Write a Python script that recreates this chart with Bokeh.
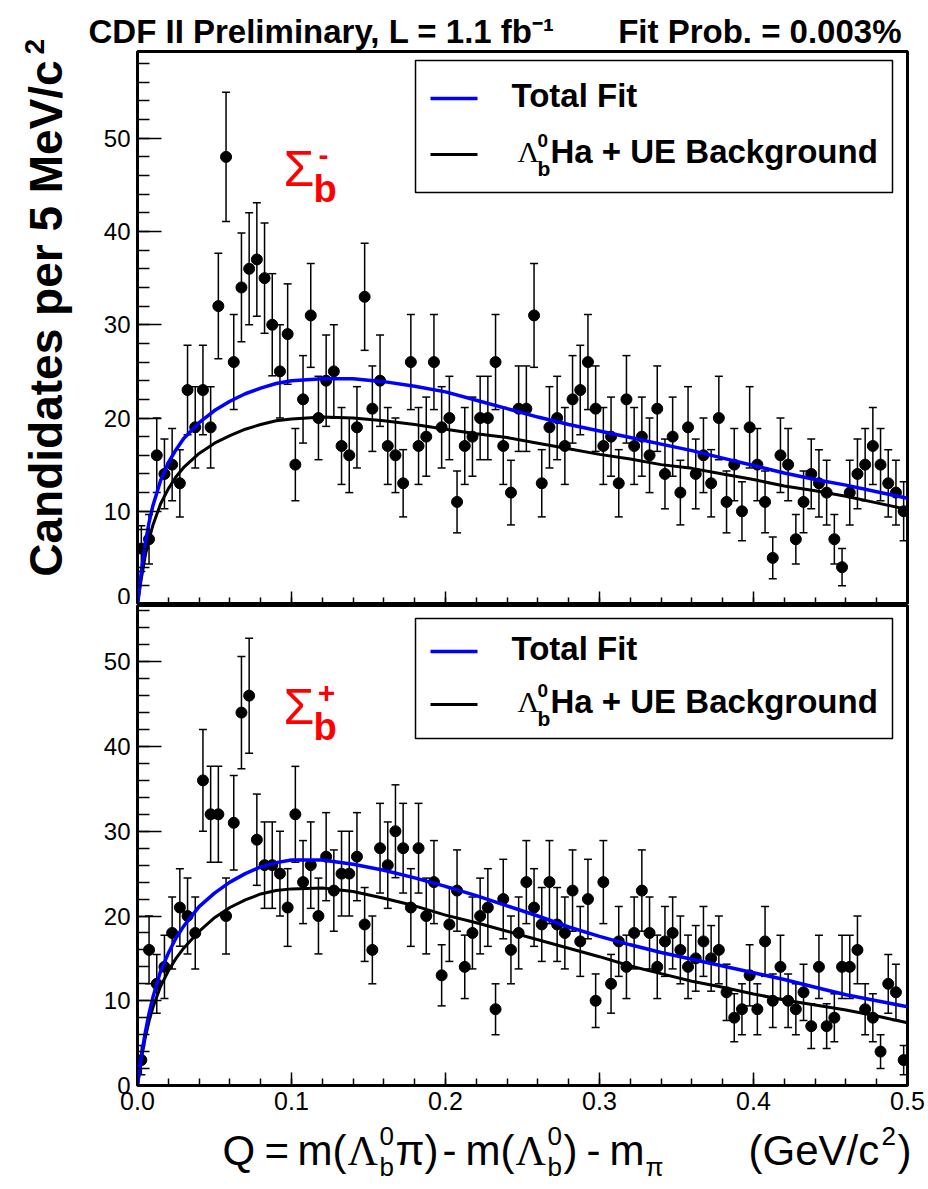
import math
import numpy as np
from bokeh.plotting import figure
from bokeh.layouts import column
from bokeh.models import (ColumnDataSource, Whisker, TeeHead, FixedTicker,
                          PrintfTickFormatter, Label, BoxAnnotation, Range1d)
from bokeh.embed import file_html
from bokeh.resources import INLINE

# ---------------- data ----------------
BIN_WIDTH = 0.005
N_BINS = 100
q_centers = (np.arange(N_BINS) + 0.5) * BIN_WIDTH

sigma_minus_counts = [
    6, 7, 16, 14, 15, 13, 23, 19, 23, 19,
    32, 48, 26, 34, 36, 37, 35, 30, 25, 29,
    15, 22, 31, 20, 24, 25, 17, 16, 19, 33,
    21, 24, 17, 16, 13, 26, 17, 18, 26, 19,
    20, 11, 17, 18, 20, 20, 26, 17, 12, 21,
    21, 31, 13, 19, 20, 17, 22, 23, 26, 21,
    17, 18, 13, 22, 17, 18, 16, 21, 14, 18,
    12, 19, 14, 16, 13, 20, 11, 15, 10, 19,
    15, 11, 5, 16, 15, 7, 11, 14, 13, 12,
    7, 4, 12, 14, 15, 17, 15, 13, 12, 10,
]
sigma_plus_counts = [
    3, 16, 12, 14, 18, 21, 20, 18, 36, 32,
    32, 20, 31, 44, 46, 29, 26, 26, 25, 21,
    32, 24, 26, 20, 27, 23, 25, 25, 27, 19,
    16, 28, 26, 30, 28, 21, 28, 20, 24, 13,
    19, 23, 14, 18, 20, 21, 9, 22, 16, 18,
    24, 21, 19, 24, 19, 18, 23, 17, 22, 10,
    24, 12, 17, 14, 18, 23, 18, 14, 17, 18,
    16, 14, 15, 17, 15, 16, 11, 8, 9, 13,
    9, 17, 10, 14, 10, 9, 11, 7, 14, 7,
    8, 14, 14, 16, 9, 8, 4, 12, 11, 3,
]

curve_q = [0.0, 0.0025, 0.005, 0.0075, 0.01, 0.015, 0.02, 0.025, 0.03, 0.04,
           0.05, 0.06, 0.07, 0.08, 0.09, 0.10, 0.12, 0.14, 0.16, 0.18,
           0.20, 0.22, 0.24, 0.26, 0.28, 0.30, 0.32, 0.34, 0.36, 0.38,
           0.40, 0.42, 0.44, 0.46, 0.48, 0.50]
minus_total_fit = [0.0, 3.5, 6.5, 8.8, 10.6, 13.3, 15.2, 16.6, 17.8, 19.5,
                   20.8, 21.8, 22.6, 23.2, 23.7, 24.0, 24.2, 24.2, 23.9, 23.4,
                   22.8, 21.9, 21.0, 20.1, 19.3, 18.6, 17.9, 17.2, 16.5, 15.7,
                   14.9, 14.1, 13.4, 12.8, 12.1, 11.4]
minus_background = [0.0, 2.8, 5.2, 7.0, 8.5, 10.8, 12.4, 13.7, 14.7, 16.2,
                    17.3, 18.1, 18.8, 19.3, 19.7, 19.9, 20.1, 20.0, 19.7, 19.3,
                    18.8, 18.3, 17.9, 17.3, 16.7, 16.1, 15.6, 15.0, 14.6, 14.0,
                    13.4, 12.7, 12.2, 11.6, 10.9, 10.2]
plus_total_fit = [0.0, 3.5, 6.2, 8.5, 10.4, 13.5, 15.6, 17.4, 18.8, 21.1,
                  22.7, 24.0, 25.0, 25.8, 26.3, 26.6, 26.6, 26.1, 25.4, 24.5,
                  23.5, 22.4, 21.2, 20.0, 18.7, 17.6, 16.6, 15.7, 14.9, 14.1,
                  13.3, 12.5, 11.6, 10.7, 10.0, 9.3]
plus_background = [0.0, 3.2, 5.6, 7.6, 9.2, 11.7, 13.5, 15.0, 16.2, 18.2,
                   19.8, 21.0, 21.9, 22.6, 23.0, 23.2, 23.3, 22.9, 22.1, 21.2,
                   20.1, 19.2, 18.2, 17.2, 16.2, 15.2, 14.1, 13.2, 12.3, 11.6,
                   10.8, 10.1, 9.5, 8.9, 8.2, 7.4]

x_major_ticks = [0.0, 0.1, 0.2, 0.3, 0.4, 0.5]
x_minor_ticks = [0.02 * i for i in range(26)]
y_major_ticks = [0, 10, 20, 30, 40, 50]
y_minor_ticks = list(range(0, 60, 2))

# ---------------- layout (page pixels) ----------------
PAGE_W = 928
PAGE_H = 1189
FRAME_L = 137
FRAME_W = 770
RIGHT_B = PAGE_W - FRAME_L - FRAME_W
X_MAX = 0.5
TOP_T = 51
TOP_H = 553
TOP_PXU = 9.325
BOT_T = 605
BOT_H = 480
BOT_PXU = 8.475
BOT_B = 35
FOOT_T = BOT_T + BOT_H + BOT_B
FOOT_H = PAGE_H - FOOT_T
TOP_YMAX = TOP_H / TOP_PXU
BOT_YMAX = BOT_H / BOT_PXU


def xm(px):
    return (px - FRAME_L) / FRAME_W * X_MAX


def ym_top(py):
    return (TOP_T + TOP_H - py) / TOP_PXU


def ym_bot(py):
    return (BOT_T + BOT_H - py) / BOT_PXU


SANS = "Liberation Sans"
SERIF = "Liberation Serif"
NB = "\u00a0"


def text(p, x, y, s, size, bold=False, color="black", font=SANS,
         align="left", baseline="middle", angle=0.0, place="center"):
    lab = Label(x=x, y=y, text=s, text_font=font,
                text_font_size=f"{size}px",
                text_font_style="bold" if bold else "normal",
                text_color=color, text_align=align,
                text_baseline=baseline, angle=angle)
    if place == "center":
        p.add_layout(lab)
    else:
        p.add_layout(lab, place)


def make_panel(counts, total, bkg, ymax, frame_h, top_border, bottom_border,
               show_x_labels):
    p = figure(frame_width=FRAME_W, frame_height=frame_h,
               min_border_left=FRAME_L, min_border_right=RIGHT_B,
               min_border_top=top_border, min_border_bottom=bottom_border,
               x_range=(0, X_MAX), y_range=(0, ymax),
               output_backend="svg", toolbar_location=None, title=None)
    p.background_fill_color = "white"
    p.border_fill_color = "white"
    p.outline_line_color = "black"
    p.outline_line_width = 3
    p.xgrid.visible = False
    p.ygrid.visible = False

    xa = p.xaxis[0]
    xa.ticker = FixedTicker(ticks=x_major_ticks, minor_ticks=x_minor_ticks)
    xa.axis_line_color = None
    xa.major_tick_in = 13
    xa.major_tick_out = 0
    xa.minor_tick_in = 7
    xa.minor_tick_out = 0
    xa.major_tick_line_width = 1.5
    xa.minor_tick_line_width = 1.5
    xa.major_tick_line_color = "black"
    xa.minor_tick_line_color = "black"
    xa.major_label_text_font = SANS
    xa.major_label_text_font_size = "25px"
    xa.major_label_text_color = "black"
    if show_x_labels:
        xa.formatter = PrintfTickFormatter(format="%.1f")
        xa.major_label_standoff = 6
    else:
        xa.major_label_overrides = {t: "" for t in x_major_ticks}
        xa.major_label_standoff = 0

    ya = p.yaxis[0]
    ya.ticker = FixedTicker(ticks=y_major_ticks, minor_ticks=y_minor_ticks)
    ya.axis_line_color = None
    ya.major_tick_in = 24
    ya.major_tick_out = 0
    ya.minor_tick_in = 12
    ya.minor_tick_out = 0
    ya.major_tick_line_width = 1.5
    ya.minor_tick_line_width = 1.5
    ya.major_tick_line_color = "black"
    ya.minor_tick_line_color = "black"
    ya.major_label_text_font = SANS
    ya.major_label_text_font_size = "24px"
    ya.major_label_text_color = "black"
    ya.major_label_standoff = 7

    err = np.sqrt(np.array(counts, dtype=float))
    src = ColumnDataSource(dict(q=q_centers, n=counts,
                                lo=np.array(counts) - err,
                                hi=np.array(counts) + err))
    p.add_layout(Whisker(source=src, base="q", lower="lo", upper="hi",
                         line_color="black", line_width=1.5,
                         upper_head=TeeHead(size=8, line_width=1.5, line_color="black"),
                         lower_head=TeeHead(size=8, line_width=1.5, line_color="black")))
    p.scatter("q", "n", source=src, marker="circle", size=11,
              fill_color="black", line_color="black")
    p.line(curve_q, bkg, line_color="black", line_width=3)
    p.line(curve_q, total, line_color="#0000ff", line_width=3.5)
    return p


top = make_panel(sigma_minus_counts, minus_total_fit, minus_background,
                 TOP_YMAX, TOP_H, TOP_T, 0, False)
bot = make_panel(sigma_plus_counts, plus_total_fit, plus_background,
                 BOT_YMAX, BOT_H, 1, BOT_B, True)


def legend(p, ym, box_t, box_b, line1_y, line2_y, mid1, mid2):
    p.add_layout(BoxAnnotation(left=xm(415), right=xm(892), top=ym(box_t),
                               bottom=ym(box_b), fill_color="white",
                               fill_alpha=1.0, line_color="black",
                               line_width=1.5, line_alpha=1.0))
    p.segment(x0=[xm(430)], y0=[ym(line1_y)], x1=[xm(477)], y1=[ym(line1_y)],
              line_color="#0000ff", line_width=3.5, level="overlay")
    p.segment(x0=[xm(430)], y0=[ym(line2_y)], x1=[xm(477)], y1=[ym(line2_y)],
              line_color="black", line_width=3, level="overlay")
    text(p, xm(511), ym(mid1), "Total Fit", 33, bold=True)
    text(p, xm(517), ym(mid2), "\u039b", 30, font=SERIF)
    text(p, xm(537), ym(mid2 - 11), "0", 19, bold=True)
    text(p, xm(537), ym(mid2 + 17), "b", 21, bold=True)
    text(p, xm(550), ym(mid2), "Ha + UE Background", 33, bold=True)


legend(top, ym_top, 60, 192, 98, 154, 95, 151)
legend(bot, ym_bot, 618, 738, 651, 704, 648, 701)

# Sigma labels
text(top, xm(283), ym_top(168), "\u03a3", 50, color="#ff0000")
text(top, xm(313), ym_top(188), "b", 38, bold=True, color="#ff0000")
text(top, xm(323), ym_top(154), "-", 30, bold=True, color="#ff0000",
     align="center")
text(bot, xm(283), ym_bot(706), "\u03a3", 50, color="#ff0000")
text(bot, xm(313), ym_bot(726), "b", 38, bold=True, color="#ff0000")
text(bot, xm(326), ym_bot(692), "+", 30, bold=True, color="#ff0000",
     align="center")

# header: one label in the panel above the top frame
text(top, xm(88), ym_top(31),
     "CDF II Preliminary, L = 1.1 fb\u207b\u00b9" + NB * 7 + "Fit Prob. = 0.003%",
     33, bold=True, place="above")

# y axis title (rotated) in the left panel
text(top, xm(45), ym_top(318), "Candidates per 5 MeV/c", 46, bold=True,
     align="center", baseline="alphabetic", angle=math.pi / 2, place="left")
text(top, xm(34), ym_top(54), "2", 28, bold=True, baseline="alphabetic",
     angle=math.pi / 2, place="left")

# footer canvas for the x axis title; its frame lines up with the panels,
# data coordinates there are page pixels
foot = figure(frame_width=FRAME_W, frame_height=FOOT_H,
              min_border_left=FRAME_L, min_border_right=RIGHT_B,
              min_border_top=0, min_border_bottom=0,
              x_range=Range1d(FRAME_L, FRAME_L + FRAME_W),
              y_range=Range1d(PAGE_H, FOOT_T),
              x_axis_location=None, y_axis_location=None,
              output_backend="svg", toolbar_location=None, title=None)
foot.outline_line_color = None
foot.background_fill_color = "white"
foot.border_fill_color = "white"
foot.xgrid.visible = False
foot.ygrid.visible = False

XM = 1150
XS = 42
for px, s, kind in [
    (222, "Q", "m"), (264, "=", "m"), (297, "m(", "m"),
    (347, "\u039b", "serif"), (379, "0", "sup"), (379, "b", "sub"),
    (395, "\u03c0)", "m"), (442, "-", "m"), (465, "m(", "m"),
    (515, "\u039b", "serif"), (547, "0", "sup"), (547, "b", "sub"),
    (563, ")", "m"), (586, "-", "m"), (609, "m", "m"), (645, "\u03c0", "sub"),
    (748, "(GeV/c", "m"), (881, "2", "sup"), (897, ")", "edge")]:
    if kind == "m":
        text(foot, px, XM, s, XS)
    elif kind == "edge":
        text(foot, px, XM, s, XS, place="right")
    elif kind == "serif":
        text(foot, px, XM, s, XS, font=SERIF)
    elif kind == "sup":
        text(foot, px, XM - 15, s, 26)
    else:
        text(foot, px, XM + 16, s, 26)

layout = column(top, bot, foot, spacing=0)
open("out.html", "w").write(file_html(layout, INLINE))
